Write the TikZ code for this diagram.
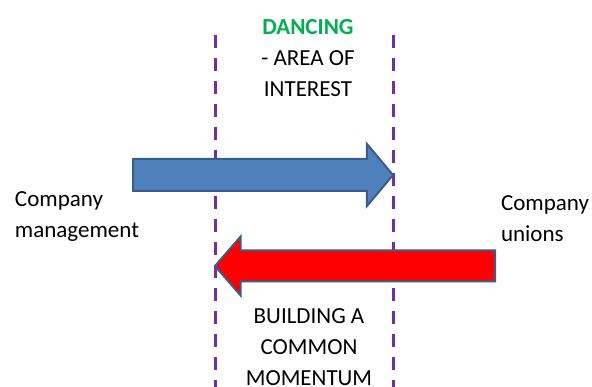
\documentclass[tikz,border=0pt]{standalone}
\usepackage{fontspec}
\setmainfont{Carlito}
\usetikzlibrary{shapes.arrows,positioning}
\definecolor{zonepurple}{HTML}{7030A0}
\definecolor{mgmtblue}{HTML}{4F81BD}
\definecolor{arrowedge}{HTML}{385D8A}
\definecolor{dancegreen}{HTML}{00B050}

\begin{document}
\begin{tikzpicture}[
    x=1pt, y=-1pt,
    every node/.style={font=\fontsize{23}{31}\selectfont, inner sep=0pt, outer sep=0pt},
    sidelabel/.style={align=left, anchor=base west},
    zonetext/.style={align=center, anchor=base},
    zoneline/.style={draw=zonepurple, line width=3pt, dash pattern=on 13pt off 10pt},
    bigarrow/.style={single arrow, draw=arrowedge, line width=2pt, anchor=tail,
        inner xsep=0pt, inner ysep=15pt, single arrow head extend=15pt}
]
\useasboundingbox (0,0) rectangle (592,387);

% limits of the area of interest
\coordinate (lefttop) at (215,35);
\coordinate (leftbot) at (215,387);
\coordinate (righttop) at (393,35);
\coordinate (rightbot) at (393,387);
\draw[zoneline] (lefttop) -- (leftbot);
\draw[zoneline] (righttop) -- (rightbot);

% the two pushes
\node[bigarrow, fill=mgmtblue, minimum height=260pt, single arrow tip angle=100]
    (mgmtarrow) at (133,175) {};
\node[bigarrow, fill=red, minimum height=280pt, inner ysep=14.5pt,
    single arrow head extend=14pt, single arrow tip angle=98, shape border rotate=180]
    (unionarrow) at (495,266) {};

% texts
\node[zonetext] (dancing) at (308,97) {\textcolor{dancegreen}{\textbf{DANCING}}\\- AREA OF\\INTEREST};
\node[zonetext] (momentum) at (309,385) {BUILDING A\\COMMON\\MOMENTUM};
\node[sidelabel] (mgmt) at (15,238) {Company\\management};
\node[sidelabel] (unions) at (501,242) {Company\\unions};
\end{tikzpicture}
\end{document}
